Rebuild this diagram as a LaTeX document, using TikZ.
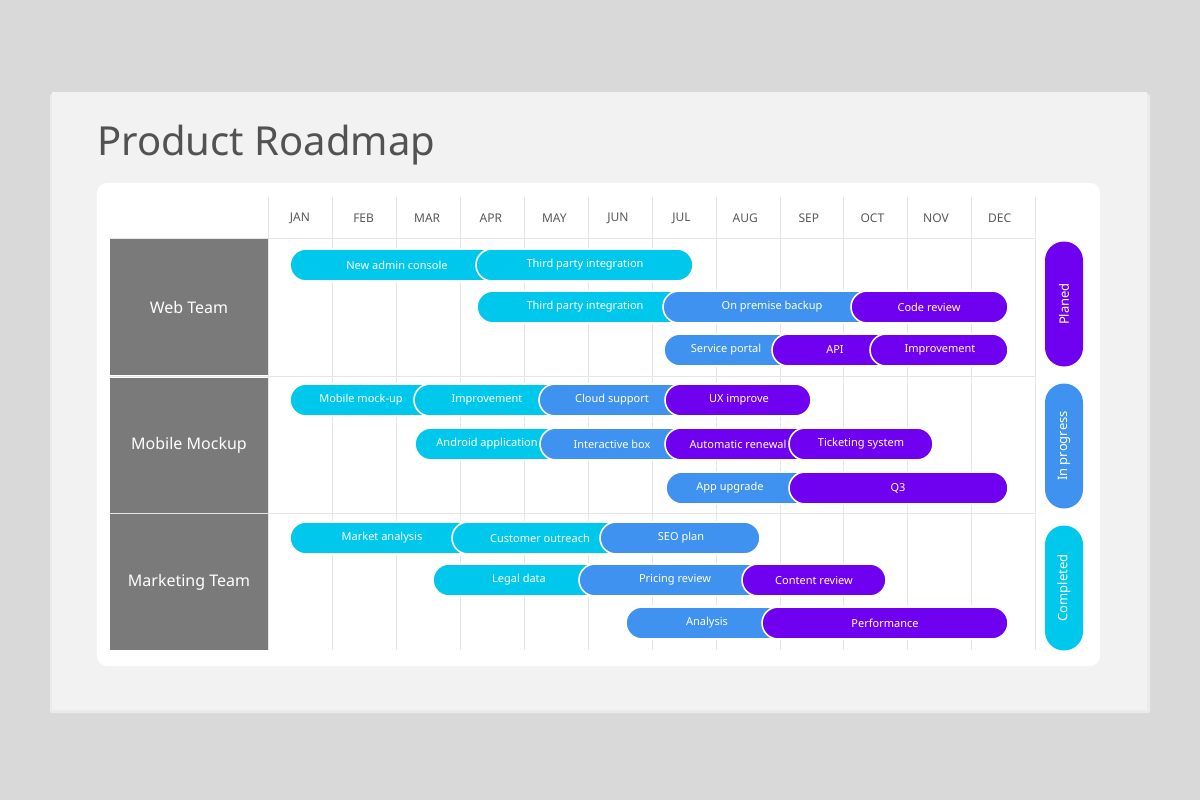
\documentclass[tikz,border=0pt]{standalone}
\usepackage{fontspec}
\setmainfont{Noto Sans}
\usetikzlibrary{shadows}
\definecolor{cy}{HTML}{00C8EC}
\definecolor{bl}{HTML}{3F92F0}
\definecolor{pu}{HTML}{7000F0}
\definecolor{tm}{HTML}{7A7A7A}
\definecolor{gl}{HTML}{E6E6EA}
\tikzset{
 pill/.style={rounded corners=16pt,minimum height=32pt,inner sep=0pt,draw=white,line width=1.6pt,fill=#1},
 ptxt/.style={text=white,font=\fontsize{11}{12}\selectfont\bfseries,inner sep=0pt},
 month/.style={text=black!65,font=\fontsize{12}{13}\selectfont\bfseries},
 team/.style={fill=tm,minimum width=158pt,inner sep=0pt,text=white,font=\fontsize{16}{18}\selectfont\bfseries},
 stat/.style={rounded corners=19pt,minimum width=38pt,minimum height=125pt,inner sep=0pt,fill=#1},
}
\newcommand\pill[7]{%
 \pgfmathsetlengthmacro\pw{(#3-#2)*1pt}%
 \node[pill=#5,minimum width=\pw] (#1) at ({(#2+#3)/2},#4) {};
 \node[ptxt] (#1t) at (#6,#4) {#7};}
\begin{document}
\begin{tikzpicture}[x=1pt,y=-1pt]
\useasboundingbox (0,0) rectangle (1200,800);
\fill[gray!15!white!92!black] (0,0) rectangle (1200,800);
\fill[black!8,rounded corners=2pt] (50,94) rectangle (1150,713);
\fill[white!95!black] (52,92) rectangle (1147,710);
\node[anchor=base west,inner sep=0pt,text=black!68,font=\fontsize{40}{44}\selectfont] (title) at (97,155) {Product Roadmap};
\fill[white,rounded corners=10pt] (97,183) rectangle (1100,666);
% grid
\foreach \x in {268,332,396,460,524,588,652,716,780,843,907,971,1035}
  \draw[gl,line width=1pt] (\x,197) -- (\x,650);
\foreach \y in {238,376,513}
  \draw[gl,line width=1pt] (110,\y) -- (1035,\y);
\foreach \m [count=\i] in {JAN,FEB,MAR,APR,MAY,JUN,JUL,AUG,SEP,OCT,NOV,DEC}
  \node[month] (m\i) at ({300+(\i-1)*63.6},218) {\m};
% teams
\node[team,minimum height=136pt] (web) at (189,307) {Web Team};
\node[team,minimum height=135pt] (mob) at (189,445) {Mobile Mockup};
\node[team,minimum height=136pt] (mkt) at (189,582) {Marketing Team};
% web
\pill{a1}{290}{506}{265}{cy}{397}{New admin console}
\pill{a2}{476}{693}{265}{cy}{585}{Third party integration}
\pill{b1}{477}{693}{307}{cy}{585}{Third party integration}
\pill{b2}{663}{881}{307}{bl}{772}{On premise backup}
\pill{b3}{851}{1008}{307}{pu}{929}{Code review}
\pill{c1}{664}{802}{350}{bl}{726}{Service portal}
\pill{c2}{772}{900}{350}{pu}{835}{API}
\pill{c3}{870}{1008}{350}{pu}{940}{Improvement}
% mobile
\pill{d1}{290}{444}{400}{cy}{361}{Mobile mock-up}
\pill{d2}{414}{569}{400}{cy}{487}{Improvement}
\pill{d3}{539}{695}{400}{bl}{612}{Cloud support}
\pill{d4}{665}{811}{400}{pu}{739}{UX improve}
\pill{e1}{415}{570}{444}{cy}{487}{Android application}
\pill{e2}{540}{695}{444}{bl}{612}{Interactive box}
\pill{e3}{665}{819}{444}{pu}{738}{Automatic renewal}
\pill{e4}{789}{933}{444}{pu}{861}{Ticketing system}
\pill{f1}{666}{819}{488}{bl}{730}{App upgrade}
\pill{f2}{789}{1008}{488}{pu}{898}{Q3}
% marketing
\pill{g1}{290}{482}{538}{cy}{382}{Market analysis}
\pill{g2}{452}{630}{538}{cy}{540}{Customer outreach}
\pill{g3}{600}{760}{538}{bl}{681}{SEO plan}
\pill{h1}{433}{609}{580}{cy}{519}{Legal data}
\pill{h2}{579}{772}{580}{bl}{675}{Pricing review}
\pill{h3}{742}{886}{580}{pu}{814}{Content review}
\pill{i1}{626}{792}{623}{bl}{707}{Analysis}
\pill{i2}{762}{1008}{623}{pu}{885}{Performance}
% status
\node[stat=pu] (s1) at (1064,304) {};
\node[rotate=90,text=white,font=\fontsize{13}{14}\selectfont] (s1t) at (1064,304) {Planed};
\node[stat=bl] (s2) at (1064,446) {};
\node[rotate=90,text=white,font=\fontsize{13}{14}\selectfont] (s2t) at (1064,446) {In progress};
\node[stat=cy] (s3) at (1064,588) {};
\node[rotate=90,text=white,font=\fontsize{13}{14}\selectfont] (s3t) at (1064,588) {Completed};
\end{tikzpicture}
\end{document}
